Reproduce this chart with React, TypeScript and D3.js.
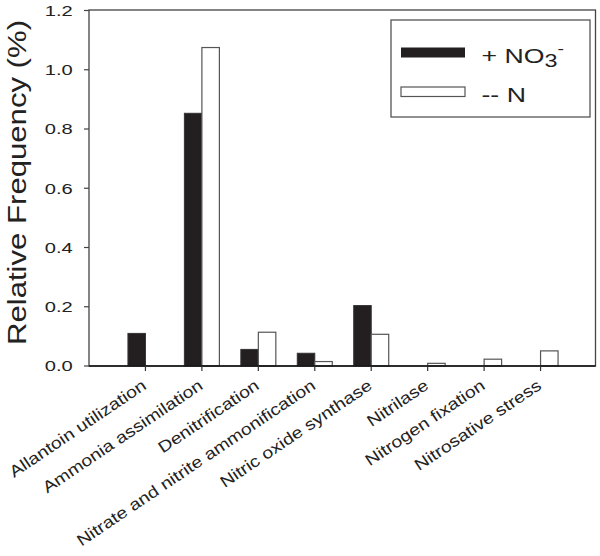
import * as d3 from 'd3';
import { useEffect, useRef } from 'react';

const categories = [
    'Allantoin utilization',
    'Ammonia assimilation',
    'Denitrification',
    'Nitrate and nitrite ammonification',
    'Nitric oxide synthase',
    'Nitrilase',
    'Nitrogen fixation',
    'Nitrosative stress',
];
// + NO3- series (black bars)
const nitrateValues = [0.11, 0.853, 0.056, 0.043, 0.204, 0, 0, 0];
// -- N series (white bars)
const noNitrogenValues = [0, 1.075, 0.114, 0.015, 0.107, 0.009, 0.023, 0.051];
const yTicks = [0, 0.2, 0.4, 0.6, 0.8, 1.0, 1.2];

const App = () => {
    const ref = useRef<SVGSVGElement | null>(null);

    useEffect(() => {
        document.body.style.margin = '0';
        drawChart();
    }, []);

    const drawChart = () => {
        const width = 600;
        const height = 556;
        const left = 89;
        const right = 595.5;
        const top = 10;
        const bottom = 366;
        const font = 'Liberation Sans, Arial, Helvetica, sans-serif';

        const root = d3.select(ref.current);
        root.selectAll('*').remove();
        const svg: any = root
            .attr('width', width)
            .attr('height', height)
            .style('display', 'block')
            .style('font-family', font);

        const x = d3.scaleLinear().domain([0, categories.length + 1]).range([left, right + 1.5]);
        const y = d3.scaleLinear().domain([0, 1.2]).range([bottom, top + 0.5]);
        const barW = 17.5;

        // bars
        const g = svg.append('g');
        g.selectAll('.black')
            .data(nitrateValues.map((v, i) => ({ v, i })).filter((d) => d.v > 0))
            .enter()
            .append('rect')
            .attr('x', (d: any) => x(d.i + 1) - barW)
            .attr('y', (d: any) => y(d.v))
            .attr('width', barW)
            .attr('height', (d: any) => y(0) - y(d.v))
            .attr('fill', '#231f20')
            .attr('stroke', '#333')
            .attr('stroke-width', 1);

        g.selectAll('.white')
            .data(noNitrogenValues.map((v, i) => ({ v, i })).filter((d) => d.v > 0))
            .enter()
            .append('rect')
            .attr('x', (d: any) => x(d.i + 1))
            .attr('y', (d: any) => y(d.v))
            .attr('width', barW)
            .attr('height', (d: any) => y(0) - y(d.v))
            .attr('fill', '#fff')
            .attr('stroke', '#555')
            .attr('stroke-width', 1.2);

        // frame
        svg.append('rect')
            .attr('x', left)
            .attr('y', top)
            .attr('width', right - left)
            .attr('height', bottom - top)
            .attr('fill', 'none')
            .attr('stroke', '#444')
            .attr('stroke-width', 1.3);
        svg.append('line')
            .attr('x1', left).attr('x2', right)
            .attr('y1', bottom).attr('y2', bottom)
            .attr('stroke', '#111')
            .attr('stroke-width', 1.5);

        // y axis ticks + labels
        svg.selectAll('.ytick')
            .data(yTicks)
            .enter()
            .append('line')
            .attr('x1', left - 5)
            .attr('x2', left)
            .attr('y1', (d: number) => y(d))
            .attr('y2', (d: number) => y(d))
            .attr('stroke', '#444')
            .attr('stroke-width', 1.2);
        svg.selectAll('.ylab')
            .data(yTicks)
            .enter()
            .append('text')
            .attr('transform', (d: number) => `translate(72.7,${y(d)}) scale(1.3,1)`)
            .attr('dy', '0.35em')
            .attr('text-anchor', 'end')
            .style('font-size', '15.5px')
            .style('fill', '#222')
            .text((d: number) => d3.format('.1f')(d));

        // x ticks + labels
        svg.selectAll('.xtick')
            .data(categories)
            .enter()
            .append('line')
            .attr('x1', (_: string, i: number) => x(i + 1))
            .attr('x2', (_: string, i: number) => x(i + 1))
            .attr('y1', bottom)
            .attr('y2', bottom + 5)
            .attr('stroke', '#333')
            .attr('stroke-width', 1.2);
        svg.selectAll('.xlab')
            .data(categories)
            .enter()
            .append('text')
            .attr('transform', (_: string, i: number) => `translate(${x(i + 1) + 2},388) rotate(-34) scale(1.2,1)`)
            .attr('text-anchor', 'end')
            .style('font-size', '16.2px')
            .style('fill', '#222')
            .text((d: string) => d);

        // y title
        svg.append('text')
            .attr('transform', 'translate(26,182.5) rotate(-90)')
            .attr('text-anchor', 'middle')
            .attr('textLength', 325)
            .attr('lengthAdjust', 'spacingAndGlyphs')
            .style('font-size', '26px')
            .style('fill', '#222')
            .text('Relative Frequency (%)');

        // legend
        const lg = svg.append('g');
        lg.append('rect')
            .attr('x', 391).attr('y', 20)
            .attr('width', 199).attr('height', 97)
            .attr('fill', '#fff')
            .attr('stroke', '#555')
            .attr('stroke-width', 1.3);
        lg.append('rect')
            .attr('x', 401).attr('y', 47.5)
            .attr('width', 64).attr('height', 10)
            .attr('fill', '#231f20');
        lg.append('rect')
            .attr('x', 401).attr('y', 87)
            .attr('width', 64).attr('height', 9.5)
            .attr('fill', '#fff')
            .attr('stroke', '#555')
            .attr('stroke-width', 1.2);

        const t1 = lg.append('text')
            .attr('transform', `translate(481.5,63.3) scale(1.3,1)`)
            .style('font-size', '20.5px')
            .style('fill', '#222');
        t1.append('tspan').text('+ NO');
        t1.append('tspan').attr('dy', 4).style('font-size', '18px').text('3');
        t1.append('tspan').attr('dy', -13).style('font-size', '15px').text('-');

        lg.append('text')
            .attr('transform', `translate(481.5,101.7) scale(1.3,1)`)
            .style('font-size', '20.5px')
            .style('fill', '#222')
            .text('-- N');
    };

    return (
        <>
            <svg ref={ref}></svg>
        </>
    );
};

export default App;
